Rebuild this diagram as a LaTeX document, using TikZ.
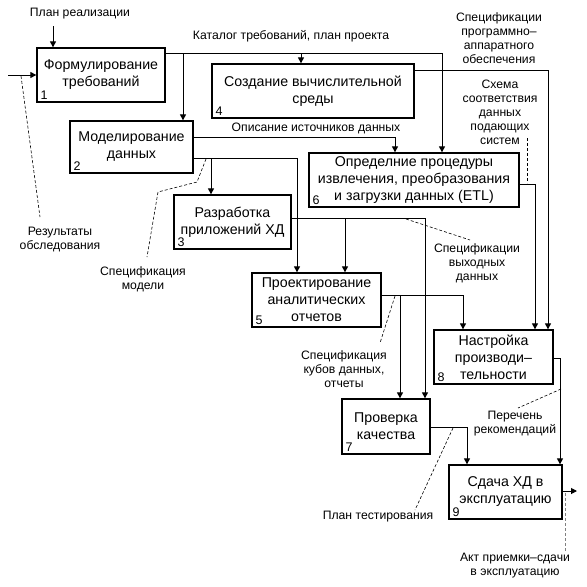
\documentclass[tikz,border=0pt]{standalone}
\usepackage{fontspec}
\setmainfont{Liberation Sans}
\usetikzlibrary{arrows.meta}

\def\boxnum#1#2{ % #1 box name, #2 number
    \node[anchor=south west, inner xsep=4pt, inner ysep=3pt, font=\fontsize{12.5}{14}\selectfont] (#1n) at (#1.south west) {#2};
}

\begin{document}
\begin{tikzpicture}[x=1pt, y=-1pt,
    proc/.style={draw, line width=1.3pt, align=center, inner sep=0pt, font=\fontsize{14.2}{17}\selectfont},
    arr/.style={line width=1pt, -{Triangle[length=6pt, width=6pt]}},
    lead/.style={line width=0.6pt, dash pattern=on 3pt off 2pt},
    lbl/.style={align=center, inner sep=0pt, font=\fontsize{12.2}{14}\selectfont}]

    \useasboundingbox (0,0) rectangle (587,587);

    % boxes
    \node[proc, minimum width=128, minimum height=54] (b1) at (101,75) {Формулирование\\требований};
    \node[proc, minimum width=202, minimum height=54] (b4) at (313,91) {Создание вычислительной\\среды};
    \node[proc, minimum width=123, minimum height=52] (b2) at (131.5,147) {Моделирование\\данных};
    \node[proc, minimum width=210, minimum height=54] (b6) at (414,180) {Определние процедуры\\извлечения, преобразования\\и загрузки данных (ETL)};
    \node[proc, minimum width=117, minimum height=54] (b3) at (232.5,222) {Разработка\\приложений ХД};
    \node[proc, minimum width=129, minimum height=54] (b5) at (316.5,300) {Проектирование\\аналитических\\отчетов};
    \node[proc, minimum width=119, minimum height=54] (b8) at (493.5,357) {Настройка\\произво­ди–\\тельности};
    \node[proc, minimum width=88, minimum height=55] (b7) at (386,426.5) {Проверка\\качества};
    \node[proc, minimum width=113, minimum height=54] (b9) at (505.5,492) {Сдача ХД в\\эксплуатацию};

    \boxnum{b1}{1}
    \boxnum{b2}{2}
    \boxnum{b3}{3}
    \boxnum{b4}{4}
    \boxnum{b5}{5}
    \boxnum{b6}{6}
    \boxnum{b7}{7}
    \boxnum{b8}{8}
    \boxnum{b9}{9}

    % plan realizacii
    \node[lbl] (lplan) at (80,14) {План реализации};
    \coordinate (pin) at (53,26);
    \draw[arr] (pin) -- (pin |- b1.north);

    % vhod
    \coordinate (in1) at (8,75);
    \draw[arr] (in1) -- (in1 -| b1.west);
    \node[lbl] (lres) at (60,240) {Результаты\\обследования};
    \coordinate (resA) at (21,76);
    \coordinate (resB) at (40,217);
    \draw[lead] (resA) -- (resB);

    % katalog trebovanij
    \coordinate (j12) at (183,53);
    \coordinate (j14) at (301,53);
    \coordinate (j16) at (442,53);
    \draw[arr] (b1.east |- j12) -| (j16 |- b6.north);
    \draw[arr] (j12) -- (j12 |- b2.north);
    \draw[arr] (j14) -- (j14 |- b4.north);
    \node[lbl] (lkat) at (291,36) {Каталог требований, план проекта};

    % specifikacii programmno-apparatnogo
    \coordinate (j48) at (548,70);
    \draw[arr] (b4.east |- j48) -| (j48 |- b8.north);
    \node[lbl] (lspec) at (499,38.5) {Спецификации\\программно–\\аппаратного\\обеспечения};

    % opisanie istochnikov
    \coordinate (j26) at (395,137);
    \draw[arr] (b2.east |- j26) -| (j26 |- b6.north);
    \node[lbl] (lopis) at (316,128) {Описание источников данных};

    % specifikacija modeli
    \coordinate (j23) at (211,158);
    \coordinate (j25) at (297,158);
    \draw[arr] (b2.east |- j25) -| (j25 |- b5.north);
    \draw[arr] (j23) -- (j23 |- b3.north);
    \node[lbl] (lmod) at (143,279) {Спецификация\\модели};
    \coordinate (modA) at (206,159);
    \coordinate (modB) at (147,257);
    \draw[lead] (modA) -- (197,182) -- (158,192) -- (modB);

    % shema sootvetstvija
    \coordinate (j68) at (535,184);
    \draw[arr] (b6.east |- j68) -| (j68 |- b8.north);
    \node[lbl] (lschema) at (500,112.5) {Схема\\соответствия\\данных\\подающих\\систем};
    \coordinate (schA) at (527,138);
    \coordinate (schB) at (527,183);
    \draw[lead] (schA) -- (schB);

    % specifikacii vyhodnyh dannyh
    \coordinate (j35) at (345,218);
    \coordinate (j37) at (425,218);
    \draw[arr] (b3.east |- j37) -| (j37 |- b7.north);
    \draw[arr] (j35) -- (j35 |- b5.north);
    \node[lbl] (lvyh) at (477,263) {Спецификации\\выходных\\данных};
    \coordinate (vyhA) at (406,219);
    \coordinate (vyhB) at (470,240);
    \draw[lead] (vyhA) -- (vyhB);

    % specifikacija kubov
    \coordinate (j57) at (400,295);
    \coordinate (j58) at (463,295);
    \draw[arr] (b5.east |- j58) -| (j58 |- b8.north);
    \draw[arr] (j57) -- (j57 |- b7.north);
    \node[lbl] (lkub) at (344,369) {Спецификация\\кубов данных,\\отчеты};
    \coordinate (kubA) at (395,296);
    \coordinate (kubB) at (380,343);
    \draw[lead] (kubA) -- (kubB);

    % perechen rekomendacij
    \coordinate (j89) at (560,358);
    \draw[arr] (b8.east |- j89) -| (j89 |- b9.north);
    \node[lbl] (lrec) at (515,424) {Перечень\\рекомендаций};
    \coordinate (recA) at (561,389);
    \coordinate (recB) at (518,408);
    \draw[lead] (recA) -- (recB);

    % plan testirovanija
    \coordinate (j79) at (467,427);
    \draw[arr] (b7.east |- j79) -| (j79 |- b9.north);
    \node[lbl] (ltest) at (378,517) {План тестирования};
    \coordinate (tstA) at (453,428);
    \coordinate (tstB) at (415,510);
    \draw[lead] (tstA) -- (tstB);

    % akt priemki
    \coordinate (out9) at (577,491);
    \draw[arr] (b9.east |- out9) -- (out9);
    \node[lbl] (lakt) at (515,566) {Акт приемки–сдачи\\в эксплуатацию};
    \coordinate (aktA) at (565,493);
    \coordinate (aktB) at (565,552);
    \draw[lead, gray] (aktA) -- (aktB);
\end{tikzpicture}
\end{document}
